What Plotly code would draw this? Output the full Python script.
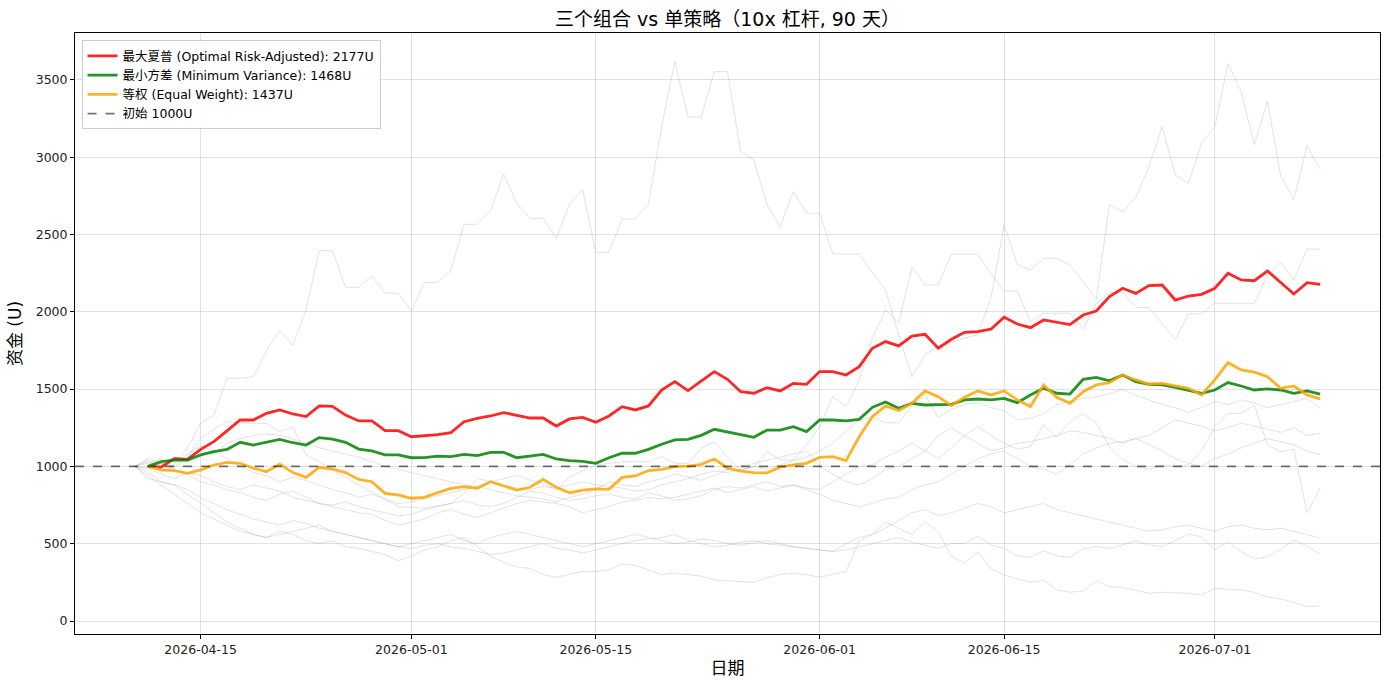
import pandas as pd
import plotly.graph_objects as go

# dates: single strategies start one day before the portfolios
strategy_dates = pd.date_range("2026-04-10", periods=91)
portfolio_dates = strategy_dates[1:]

# portfolio equity curves (U)
max_sharpe = [
    1000, 995, 1050, 1045, 1110, 1160, 1230, 1300, 1300, 1343,
    1365, 1339, 1322, 1391, 1388, 1332, 1294, 1294, 1231, 1231,
    1192, 1197, 1205, 1218, 1289, 1311, 1326, 1348, 1332, 1313,
    1313, 1261, 1307, 1317, 1285, 1326, 1386, 1365, 1391, 1494,
    1548, 1490, 1552, 1613, 1563, 1483, 1473, 1509, 1488, 1537,
    1531, 1613, 1613, 1591, 1645, 1764, 1807, 1779, 1843, 1854,
    1764, 1822, 1867, 1871, 1887, 1965, 1921, 1897, 1947, 1932,
    1917, 1979, 2005, 2098, 2152, 2119, 2169, 2173, 2076, 2102,
    2113, 2152, 2249, 2206, 2201, 2264, 2188, 2115, 2188, 2177]
min_variance = [
    1000, 1031, 1041, 1041, 1074, 1095, 1110, 1156, 1138, 1156,
    1175, 1153, 1138, 1186, 1177, 1156, 1112, 1100, 1074, 1074,
    1056, 1057, 1067, 1063, 1078, 1070, 1091, 1091, 1056, 1067,
    1078, 1048, 1037, 1033, 1020, 1056, 1085, 1085, 1110, 1143,
    1171, 1175, 1201, 1240, 1222, 1203, 1188, 1235, 1235, 1257,
    1225, 1300, 1300, 1294, 1304, 1382, 1417, 1376, 1408, 1397,
    1399, 1401, 1430, 1436, 1430, 1440, 1412, 1462, 1505, 1473,
    1468, 1563, 1576, 1554, 1591, 1548, 1531, 1527, 1511, 1494,
    1473, 1494, 1542, 1520, 1494, 1501, 1494, 1473, 1488, 1468]
equal_weight = [
    1000, 977, 972, 955, 977, 1009, 1026, 1020, 988, 966,
    1015, 960, 929, 994, 983, 960, 916, 901, 826, 815,
    794, 800, 830, 858, 869, 858, 901, 873, 847, 865,
    916, 865, 830, 847, 854, 852, 929, 938, 973, 981,
    998, 1002, 1013, 1048, 988, 970, 960, 958, 995, 1010,
    1020, 1059, 1063, 1037, 1192, 1322, 1391, 1361, 1408, 1488,
    1451, 1393, 1447, 1488, 1462, 1488, 1430, 1387, 1527, 1447,
    1408, 1483, 1527, 1542, 1591, 1559, 1533, 1537, 1520, 1505,
    1462, 1559, 1671, 1624, 1609, 1580, 1505, 1520, 1462, 1437]

# single strategy curves (grey background)
strat_1 = [
    1000, 1040, 960, 1010, 1120, 1280, 1330, 1570, 1570, 1580,
    1750, 1876, 1785, 2012, 2395, 2395, 2158, 2158, 2232, 2120,
    2120, 2005, 2190, 2190, 2270, 2566, 2566, 2652, 2891, 2700,
    2605, 2605, 2475, 2697, 2788, 2385, 2385, 2600, 2600, 2697,
    3198, 3618, 3259, 3259, 3553, 3553, 3036, 2982, 2691, 2550,
    2777, 2637, 2637, 2374, 2374, 2374, 2255, 2141, 1850, 1580,
    1720, 1780, 1800, 1830, 1850, 2087, 2561, 2306, 2270, 2346,
    2346, 2303, 2195, 2081, 2694, 2647, 2740, 2938, 3196, 2885,
    2831, 3089, 3196, 3606, 3424, 3082, 3361, 2878, 2727, 3074, 2922]
strat_2 = [
    1000, 1020, 1050, 990, 1060, 1180, 1240, 1289, 1284, 1278,
    1278, 1225, 1257, 1074, 1030, 980, 933, 880, 836, 790,
    739, 735, 729, 745, 761, 826, 923, 901, 920, 944,
    912, 890, 847, 933, 970, 1009, 1020, 1030, 1030, 1030,
    1063, 1020, 1020, 1117, 1160, 1058, 977, 998, 1095, 1041,
    1041, 1138, 1257, 1451, 1386, 1559, 1828, 2015, 1926, 2287,
    2173, 2173, 2372, 2372, 2372, 2248, 2134, 2134, 1937, 1990,
    1990, 1990, 1889, 2055, 2125, 2125, 2028, 2028, 1924, 1821,
    1986, 1986, 2055, 2055, 2055, 2055, 2238, 2320, 2206, 2405, 2405]
strat_3 = [
    1000, 1030, 1010, 1060, 1050, 1100, 1080, 1150, 1180, 1200,
    1210, 1200, 1180, 1150, 1120, 1100, 1080, 1060, 1030, 1000,
    980, 960, 940, 920, 900, 880, 870, 900, 880, 860,
    850, 870, 860, 880, 900, 880, 870, 860, 840, 850,
    880, 900, 920, 950, 970, 960, 980, 1000, 980, 1010,
    1040, 1060, 1100, 1150, 1230, 1300, 1320, 1282, 1282, 1390,
    1465, 1315, 1369, 1400, 1412, 1380, 1360, 1300, 1310, 1340,
    1400, 1420, 1440, 1450, 1470, 1500, 1460, 1430, 1400, 1380,
    1350, 1380, 1420, 1400, 1430, 1410, 1380, 1400, 1420, 1440, 1375]
strat_4 = [
    1000, 980, 1020, 1000, 1080, 1130, 1100, 1050, 1000, 960,
    940, 900, 930, 910, 880, 850, 830, 800, 820, 790,
    760, 770, 790, 810, 830, 850, 870, 850, 830, 810,
    800, 790, 770, 800, 820, 850, 900, 880, 870, 900,
    920, 950, 930, 910, 940, 980, 1000, 1020, 1040, 1060,
    1080, 1100, 1000, 950, 900, 880, 920, 980, 1000, 1050,
    1100, 1200, 1250, 1200, 1150, 1100, 1120, 1150, 1160, 1180,
    1200, 1230, 1220, 1200, 1180, 1150, 1180, 1200, 1250, 1300,
    1280, 1260, 1230, 1250, 1280, 1260, 1240, 1220, 1250, 1200, 1214]
strat_5 = [
    1000, 1050, 1020, 980, 950, 900, 880, 850, 830, 800,
    780, 820, 840, 800, 760, 740, 720, 700, 690, 650,
    620, 640, 660, 700, 720, 690, 670, 700, 730, 760,
    780, 770, 760, 740, 700, 720, 740, 770, 780, 800,
    790, 800, 820, 840, 860, 830, 850, 870, 840, 860,
    880, 850, 820, 780, 760, 740, 760, 790, 800, 850,
    880, 900, 950, 1000, 1050, 1080, 1100, 1050, 1000, 980,
    950, 1010, 1080, 1120, 1150, 1160, 1180, 1140, 1100, 1050,
    1020, 1000, 1050, 1080, 1120, 1150, 1180, 1160, 1140, 1100, 1074]
strat_6 = [
    1000, 990, 950, 920, 960, 940, 900, 870, 850, 880,
    860, 840, 800, 780, 760, 750, 770, 740, 720, 700,
    680, 690, 720, 740, 760, 780, 750, 740, 760, 800,
    840, 830, 800, 780, 790, 810, 820, 800, 790, 830,
    810, 780, 790, 810, 850, 870, 860, 880, 900, 870,
    880, 860, 850, 900, 950, 1000, 1010, 1060, 1100, 1150,
    1100, 1050, 1120, 1200, 1257, 1200, 1150, 1112, 1127, 1268,
    1188, 1289, 1343, 1279, 1127, 1041, 1000, 980, 1010, 1000,
    1009, 1100, 1257, 1343, 1343, 1397, 1138, 1095, 1112, 700, 858]
strat_7 = [
    1000, 920, 900, 880, 850, 800, 760, 720, 690, 660,
    640, 620, 650, 630, 600, 580, 560, 540, 520, 500,
    480, 500, 520, 540, 560, 520, 500, 540, 560, 580,
    560, 540, 520, 500, 480, 500, 520, 540, 560, 540,
    520, 500, 510, 530, 520, 500, 490, 510, 520, 500,
    480, 470, 460, 450, 500, 540, 560, 600, 650, 700,
    720, 680, 700, 730, 760, 740, 700, 720, 740, 760,
    720, 700, 680, 660, 640, 620, 600, 580, 590, 610,
    620, 600, 580, 610, 620, 600, 590, 600, 580, 560, 535]
strat_8 = [
    1000, 940, 880, 820, 760, 700, 660, 620, 580, 560,
    540, 560, 580, 600, 620, 580, 560, 540, 520, 500,
    480, 470, 490, 500, 480, 470, 450, 430, 440, 460,
    480, 500, 470, 460, 440, 460, 480, 500, 520, 530,
    540, 560, 520, 500, 480, 490, 510, 520, 500, 490,
    480, 470, 460, 450, 460, 480, 500, 520, 540, 510,
    490, 470, 502, 502, 549, 491, 470, 421, 412, 455,
    421, 412, 466, 481, 470, 491, 519, 491, 481, 519,
    562, 545, 459, 513, 448, 401, 416, 463, 524, 485, 433]
strat_9 = [
    1000, 960, 900, 880, 820, 760, 700, 640, 600, 560,
    540, 580, 560, 520, 500, 520, 480, 470, 450, 430,
    390, 420, 460, 480, 520, 540, 480, 420, 380, 350,
    340, 300, 283, 300, 320, 320, 330, 370, 360, 330,
    300, 310, 300, 290, 265, 260, 255, 250, 280, 300,
    310, 300, 283, 300, 320, 520, 560, 640, 600, 560,
    640, 577, 416, 377, 448, 340, 297, 276, 250, 265,
    201, 186, 194, 259, 222, 218, 197, 179, 186, 183,
    179, 169, 212, 205, 201, 186, 154, 143, 121, 93, 99]

strategies = [strat_1, strat_2, strat_3, strat_4, strat_5,
              strat_6, strat_7, strat_8, strat_9]

portfolios = [
    ("最大夏普 (Optimal Risk-Adjusted): 2177U", max_sharpe, "rgba(255,0,0,0.85)"),
    ("最小方差 (Minimum Variance): 1468U", min_variance, "rgba(0,128,0,0.85)"),
    ("等权 (Equal Weight): 1437U", equal_weight, "rgba(255,165,0,0.85)"),
]
initial_capital = 1000
date_ticks = ["2026-04-15", "2026-05-01", "2026-05-15", "2026-06-01", "2026-06-15", "2026-07-01"]

FONT = "DejaVu Sans, Noto Sans CJK SC, sans-serif"

fig = go.Figure()

for s in strategies:
    fig.add_trace(go.Scatter(x=strategy_dates, y=s, mode="lines",
                             line=dict(color="rgba(150,150,150,0.28)", width=1),
                             showlegend=False, hoverinfo="skip"))

for name, values, color in portfolios:
    fig.add_trace(go.Scatter(x=portfolio_dates, y=values, mode="lines", name=name,
                             line=dict(color=color, width=2.8)))

# horizontal baseline across the whole axes, plus a legend entry for it
fig.add_hline(y=initial_capital, line=dict(color="rgba(0,0,0,0.55)", width=1.6, dash="dash"))
fig.add_trace(go.Scatter(x=[None], y=[None], mode="lines", name="初始 1000U",
                         line=dict(color="rgba(0,0,0,0.55)", width=1.6, dash="dash")))

axis_style = dict(showline=True, linecolor="black", linewidth=1, mirror=True,
                  ticks="outside", ticklen=4, tickcolor="black", automargin=False,
                  showgrid=True, gridcolor="rgba(190,190,190,0.45)", gridwidth=1,
                  zeroline=False, tickfont=dict(size=12.5, color="#222222"))

fig.update_xaxes(range=["2026-04-05 11:00", "2026-07-13 13:00"],
                 tickvals=date_ticks, ticktext=date_ticks,
                 title=dict(text="日期", font=dict(size=17), standoff=6), **axis_style)
fig.update_yaxes(range=[-84, 3803], tickvals=[0, 500, 1000, 1500, 2000, 2500, 3000, 3500],
                 tickformat="d",
                 title=dict(text="资金 (U)", font=dict(size=17), standoff=9), **axis_style)

fig.update_layout(
    width=1389, height=690,
    margin=dict(l=75, r=9, t=33, b=56),
    paper_bgcolor="white", plot_bgcolor="white",
    font=dict(family=FONT, color="black"),
    title=dict(text="三个组合 vs 单策略（10x 杠杆, 90 天）", x=0.5, xref="paper",
               y=0.972, yanchor="middle", font=dict(size=19)),
    legend=dict(x=0.005, y=0.988, xanchor="left", yanchor="top",
                bgcolor="rgba(255,255,255,0.85)", bordercolor="#cccccc", borderwidth=1,
                font=dict(size=12.5), tracegroupgap=0),
    showlegend=True,
)

fig.write_html("out.html", config={"displayModeBar": False},
               post_script="document.body.style.margin = '0';")
